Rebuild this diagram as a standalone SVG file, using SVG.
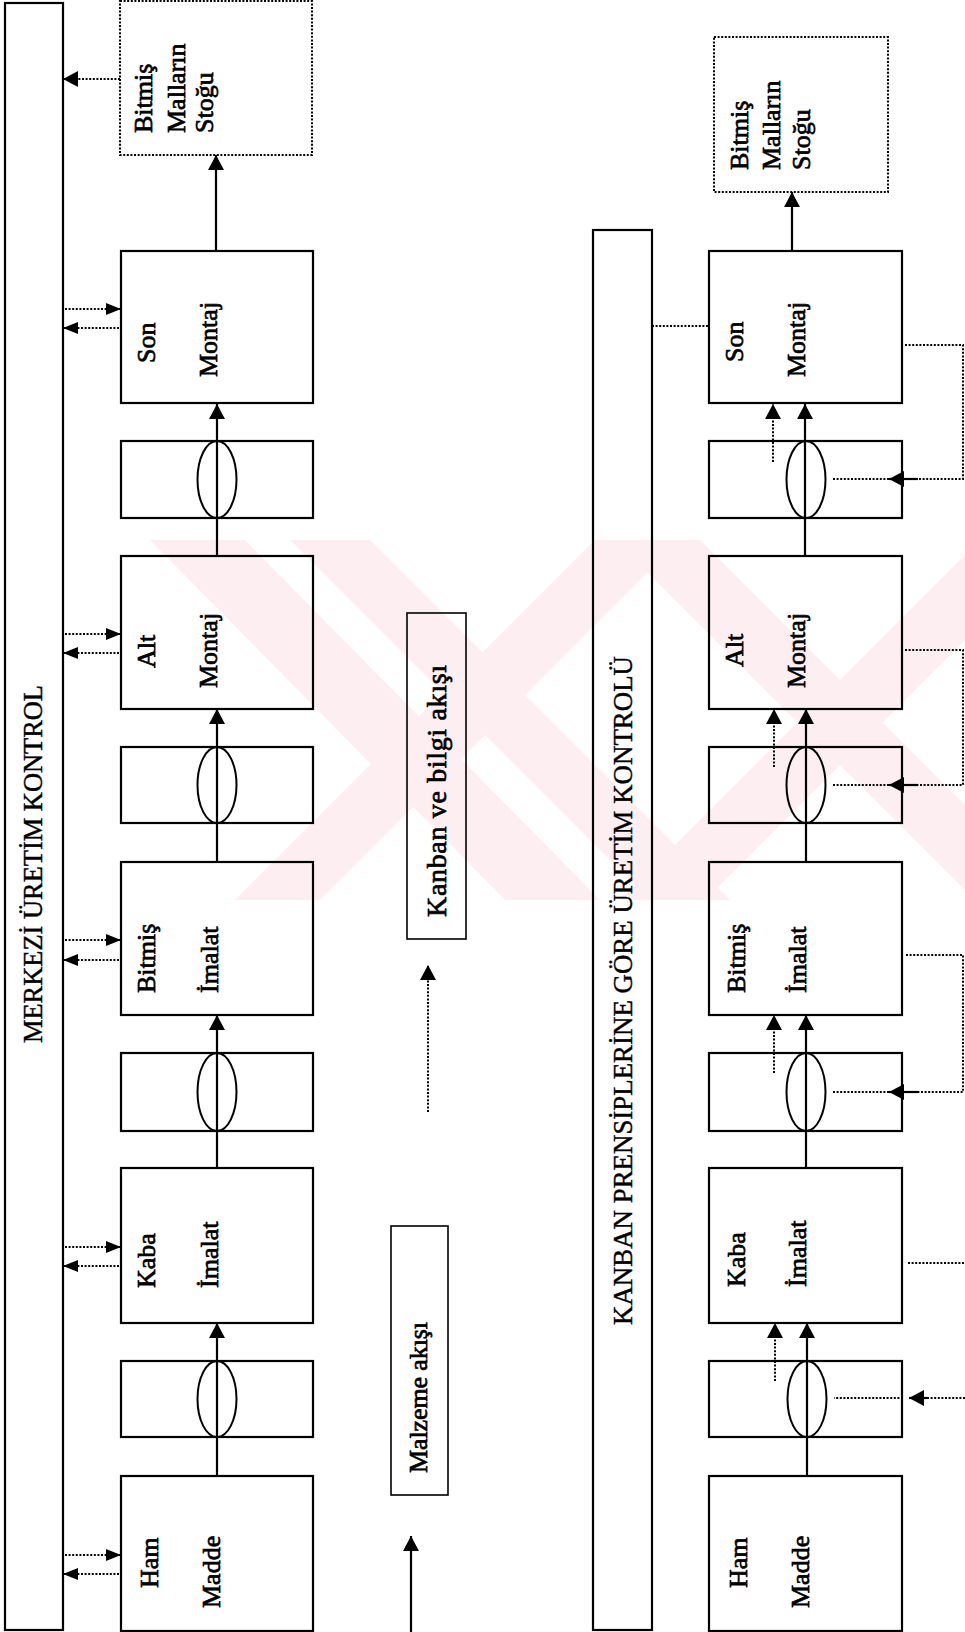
<svg xmlns="http://www.w3.org/2000/svg" width="965" height="1632" viewBox="0 0 965 1632">
<defs>
<style>
.bx{fill:none;stroke:#000;stroke-width:2.2}
.dbx{fill:none;stroke:#000;stroke-width:2;stroke-dasharray:2 1.6}
.el{fill:none;stroke:#000;stroke-width:2}
.ln{fill:none;stroke:#000;stroke-width:2.2}
.dl{fill:none;stroke:#000;stroke-width:2;stroke-dasharray:2 1.6}
.t{font-family:"Liberation Serif","Times New Roman",serif;font-size:26px;fill:#000;stroke:#000;stroke-width:0.7}
.tt{font-family:"Liberation Serif","Times New Roman",serif;font-size:27px;fill:#000;stroke:#000;stroke-width:0.4}
.wm{fill:#fdeff1}
</style>
<marker id="ah" viewBox="0 0 15 16" refX="15" refY="8" markerWidth="15" markerHeight="16" orient="auto" markerUnits="userSpaceOnUse"><path d="M0,0 L15,8 L0,16 Z" fill="#000"/></marker>
<marker id="as" viewBox="0 0 15 12" refX="15" refY="6" markerWidth="15" markerHeight="12" orient="auto" markerUnits="userSpaceOnUse"><path d="M0,0 L15,6 L0,12 Z" fill="#000"/></marker>
<clipPath id="wc"><rect x="140" y="540" width="825" height="360"/></clipPath>
</defs>
<rect width="965" height="1632" fill="#fff"/>
<g id="watermark" clip-path="url(#wc)">
<polygon class="wm" points="150,540 245,540 600,900 505,900"/>
<polygon class="wm" points="290,540 370,540 730,900 650,900"/>
<polygon class="wm" points="595,540 680,540 320,900 235,900"/>
<polygon class="wm" points="615,540 700,540 965,805 965,890"/>
<polygon class="wm" points="965,555 965,640 705,900 620,900"/>
</g>

<!-- LEFT PANEL -->
<g id="merkezi-bar"><rect class="bx" x="5" y="3" width="58" height="1627"/>
<text class="tt" transform="translate(42,1043) rotate(-90)" textLength="358" lengthAdjust="spacingAndGlyphs">MERKEZİ ÜRETİM KONTROL</text></g>
<g id="l-stok"><rect class="dbx" x="120" y="1" width="192" height="154"/>
<text class="t" transform="translate(152,133) rotate(-90)">Bitmiş</text>
<text class="t" transform="translate(185,133) rotate(-90)">Malların</text>
<text class="t" transform="translate(213,133) rotate(-90)">Stoğu</text></g>
<g id="l-son"><rect class="bx" x="121" y="251" width="192" height="152"/>
<text class="t" transform="translate(155,363) rotate(-90)">Son</text>
<text class="t" transform="translate(217,377) rotate(-90)">Montaj</text></g>
<g id="l-buf1"><rect class="bx" x="121" y="441" width="192" height="77"/><ellipse class="el" cx="217" cy="479.5" rx="19.5" ry="38.5"/></g>
<g id="l-alt"><rect class="bx" x="121" y="556" width="192" height="153"/>
<text class="t" transform="translate(155,668) rotate(-90)">Alt</text>
<text class="t" transform="translate(217,688) rotate(-90)">Montaj</text></g>
<g id="l-buf2"><rect class="bx" x="121" y="747" width="192" height="76"/><ellipse class="el" cx="217" cy="785" rx="19.5" ry="38"/></g>
<g id="l-bitmis"><rect class="bx" x="121" y="862" width="192" height="153"/>
<text class="t" transform="translate(155,993) rotate(-90)">Bitmiş</text>
<text class="t" transform="translate(218,993) rotate(-90)">İmalat</text></g>
<g id="l-buf3"><rect class="bx" x="121" y="1053" width="192" height="78"/><ellipse class="el" cx="217" cy="1092" rx="19.5" ry="39"/></g>
<g id="l-kaba"><rect class="bx" x="121" y="1168" width="192" height="155"/>
<text class="t" transform="translate(155,1288) rotate(-90)">Kaba</text>
<text class="t" transform="translate(218,1288) rotate(-90)">İmalat</text></g>
<g id="l-buf4"><rect class="bx" x="121" y="1361" width="192" height="76"/><ellipse class="el" cx="217" cy="1399" rx="19.5" ry="38"/></g>
<g id="l-ham"><rect class="bx" x="121" y="1476" width="192" height="155"/>
<text class="t" transform="translate(158,1588) rotate(-90)">Ham</text>
<text class="t" transform="translate(220,1608) rotate(-90)">Madde</text></g>

<g id="legend">
<rect class="bx" x="407" y="613" width="59" height="326" style="stroke-width:1.6"/>
<text class="t" transform="translate(446,917) rotate(-90)" style="font-size:28px" textLength="252" lengthAdjust="spacing">Kanban ve bilgi akışı</text>
<rect class="bx" x="391" y="1226" width="57" height="269" style="stroke-width:1.6"/>
<text class="t" transform="translate(427,1473) rotate(-90)" textLength="151" lengthAdjust="spacing">Malzeme akışı</text>
</g>

<!-- RIGHT PANEL -->
<g id="kanban-bar"><rect class="bx" x="593" y="230" width="59" height="1400"/>
<text class="tt" transform="translate(632,1325) rotate(-90)" textLength="669" lengthAdjust="spacingAndGlyphs">KANBAN PRENSİPLERİNE GÖRE ÜRETİM KONTROLÜ</text></g>
<g id="r-stok"><rect class="dbx" x="714" y="37" width="174" height="155"/>
<text class="t" transform="translate(748,170) rotate(-90)">Bitmiş</text>
<text class="t" transform="translate(780,170) rotate(-90)">Malların</text>
<text class="t" transform="translate(810,170) rotate(-90)">Stoğu</text></g>
<g id="r-son"><rect class="bx" x="709" y="251" width="193" height="152"/>
<text class="t" transform="translate(743,362) rotate(-90)">Son</text>
<text class="t" transform="translate(805,377) rotate(-90)">Montaj</text></g>
<g id="r-buf1"><rect class="bx" x="709" y="441" width="193" height="77"/><ellipse class="el" cx="806" cy="479.5" rx="19.5" ry="38.5"/></g>
<g id="r-alt"><rect class="bx" x="709" y="556" width="193" height="153"/>
<text class="t" transform="translate(743,667) rotate(-90)">Alt</text>
<text class="t" transform="translate(805,688) rotate(-90)">Montaj</text></g>
<g id="r-buf2"><rect class="bx" x="709" y="747" width="193" height="76"/><ellipse class="el" cx="806" cy="785" rx="19.5" ry="38"/></g>
<g id="r-bitmis"><rect class="bx" x="709" y="862" width="193" height="153"/>
<text class="t" transform="translate(745,993) rotate(-90)">Bitmiş</text>
<text class="t" transform="translate(806,993) rotate(-90)">İmalat</text></g>
<g id="r-buf3"><rect class="bx" x="709" y="1053" width="193" height="78"/><ellipse class="el" cx="806" cy="1092" rx="19.5" ry="39"/></g>
<g id="r-kaba"><rect class="bx" x="709" y="1168" width="193" height="155"/>
<text class="t" transform="translate(745,1287) rotate(-90)">Kaba</text>
<text class="t" transform="translate(806,1287) rotate(-90)">İmalat</text></g>
<g id="r-buf4"><rect class="bx" x="709" y="1361" width="193" height="76"/><ellipse class="el" cx="807" cy="1399" rx="19.5" ry="38"/></g>
<g id="r-ham"><rect class="bx" x="709" y="1476" width="193" height="155"/>
<text class="t" transform="translate(747,1588) rotate(-90)">Ham</text>
<text class="t" transform="translate(809,1608) rotate(-90)">Madde</text></g>

<g id="connectors">
<!-- left material flow -->
<line class="ln" x1="217" y1="1476" x2="217" y2="1323" marker-end="url(#ah)"/>
<line class="ln" x1="217" y1="1168" x2="217" y2="1015" marker-end="url(#ah)"/>
<line class="ln" x1="217" y1="862" x2="217" y2="709" marker-end="url(#ah)"/>
<line class="ln" x1="217" y1="556" x2="217" y2="404" marker-end="url(#ah)"/>
<line class="ln" x1="216" y1="251" x2="216" y2="155" marker-end="url(#ah)"/>
<!-- left info flow -->
<line class="dl" x1="120" y1="79" x2="63" y2="79" marker-end="url(#ah)"/>
<line class="dl" x1="65" y1="309" x2="121" y2="309" marker-end="url(#as)"/>
<line class="dl" x1="119" y1="328" x2="63" y2="328" marker-end="url(#as)"/>
<line class="dl" x1="65" y1="634" x2="121" y2="634" marker-end="url(#as)"/>
<line class="dl" x1="119" y1="653" x2="63" y2="653" marker-end="url(#as)"/>
<line class="dl" x1="65" y1="940" x2="121" y2="940" marker-end="url(#as)"/>
<line class="dl" x1="119" y1="960" x2="63" y2="960" marker-end="url(#as)"/>
<line class="dl" x1="65" y1="1247" x2="121" y2="1247" marker-end="url(#as)"/>
<line class="dl" x1="119" y1="1266" x2="63" y2="1266" marker-end="url(#as)"/>
<line class="dl" x1="65" y1="1555" x2="121" y2="1555" marker-end="url(#as)"/>
<line class="dl" x1="119" y1="1574" x2="63" y2="1574" marker-end="url(#as)"/>
<!-- legend arrows -->
<line class="dl" x1="428" y1="1112" x2="428" y2="965" marker-end="url(#ah)"/>
<line class="ln" x1="411" y1="1632" x2="411" y2="1536" marker-end="url(#ah)"/>
<!-- right material flow -->
<line class="ln" x1="807" y1="1476" x2="807" y2="1323" marker-end="url(#ah)"/>
<line class="ln" x1="806" y1="1168" x2="806" y2="1015" marker-end="url(#ah)"/>
<line class="ln" x1="806" y1="862" x2="806" y2="709" marker-end="url(#ah)"/>
<line class="ln" x1="805" y1="556" x2="805" y2="404" marker-end="url(#ah)"/>
<line class="ln" x1="792" y1="251" x2="792" y2="192" marker-end="url(#ah)"/>
<!-- right kanban arrows -->
<line class="dl" x1="775" y1="1381" x2="775" y2="1323" marker-end="url(#ah)"/>
<line class="dl" x1="774" y1="1073" x2="774" y2="1015" marker-end="url(#ah)"/>
<line class="dl" x1="774" y1="767" x2="774" y2="709" marker-end="url(#ah)"/>
<line class="dl" x1="773" y1="462" x2="773" y2="404" marker-end="url(#ah)"/>
<line class="dl" x1="652" y1="326" x2="710" y2="326"/>
<!-- right feedback loops -->
<polyline class="dl" points="905,345 963,345 963,479 918,479"/>
<line class="ln" x1="918" y1="479" x2="889" y2="479" marker-end="url(#ah)"/>
<line class="dl" x1="889" y1="479" x2="832" y2="479"/>
<polyline class="dl" points="905,650 963,650 963,785 918,785"/>
<line class="ln" x1="918" y1="785" x2="889" y2="785" marker-end="url(#ah)"/>
<line class="dl" x1="889" y1="785" x2="832" y2="785"/>
<polyline class="dl" points="906,955 963,955 963,1092 918,1092"/>
<line class="ln" x1="918" y1="1092" x2="889" y2="1092" marker-end="url(#ah)"/>
<line class="dl" x1="889" y1="1092" x2="832" y2="1092"/>
<line class="dl" x1="908" y1="1263" x2="965" y2="1263"/>
<line class="dl" x1="965" y1="1398" x2="926" y2="1398"/>
<line class="ln" x1="927" y1="1398" x2="909" y2="1398" marker-end="url(#ah)"/>
<line class="dl" x1="903" y1="1398" x2="834" y2="1398"/>
</g>
</svg>
